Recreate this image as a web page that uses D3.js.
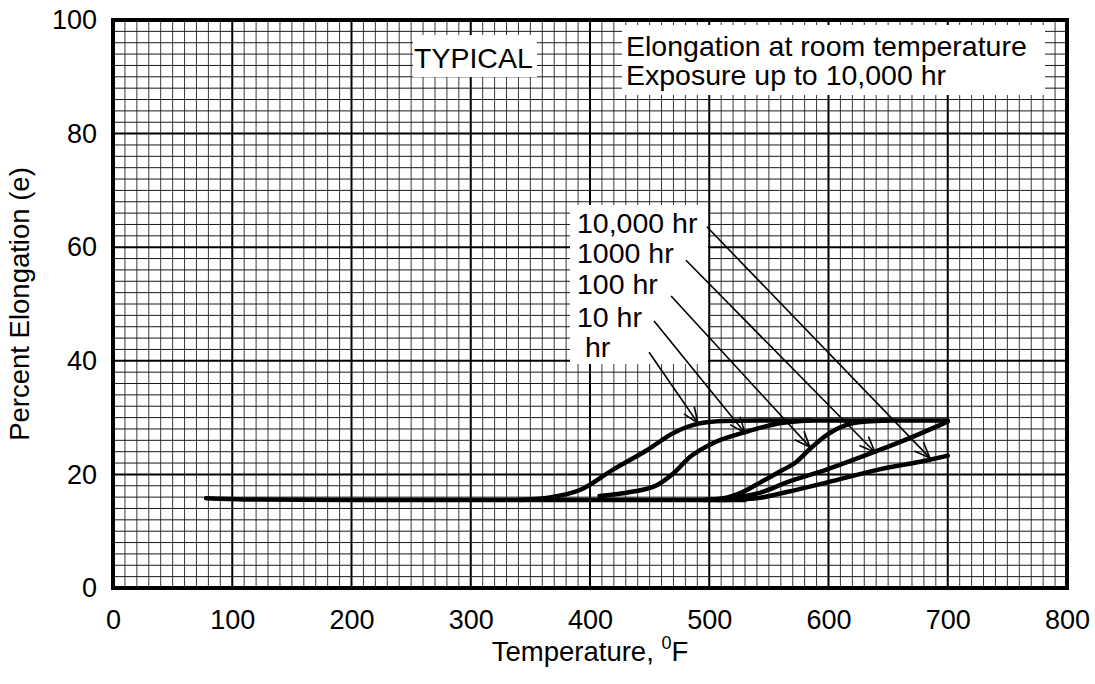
<!DOCTYPE html>
<html>
<head>
<meta charset="utf-8">
<script src="https://cdn.jsdelivr.net/npm/d3@7"></script>
<style>
  body { margin: 0; background: #fff; }
  text { font-family: "Liberation Sans", Arial, sans-serif; fill: #000; }
</style>
</head>
<body>
<div id="chart"></div>
<script>
// values (temperature degF, percent elongation)
var xTicks = [0, 100, 200, 300, 400, 500, 600, 700, 800];
var yTicks = [0, 20, 40, 60, 80, 100];

var baseline = [[78, 15.8], [110, 15.6], [200, 15.5], [360, 15.5], [500, 15.5], [530, 15.5]];
var hr1 = [[340, 15.5], [365, 15.9], [392, 17.3], [419, 20.8], [448, 24.3], [470, 27.3], [490, 28.9], [512, 29.4], [540, 29.5], [700, 29.5]];
var hr10 = [[408, 16.2], [434, 16.9], [456, 18.1], [470, 20.2], [484, 23.1], [503, 25.5], [528, 27.3], [559, 29.0], [585, 29.5]];
var hr100 = [[495, 15.5], [512, 15.8], [527, 16.8], [543, 18.6], [560, 20.6], [573, 22.2], [585, 24.6], [599, 27.0], [615, 28.7], [632, 29.3], [650, 29.5]];
var hr1000 = [[500, 15.5], [520, 15.9], [543, 16.8], [565, 18.6], [599, 20.9], [639, 24.0], [668, 26.4], [700, 29.3]];
var hr10000 = [[505, 15.5], [525, 15.6], [543, 15.9], [565, 16.9], [599, 18.6], [641, 20.8], [683, 22.5], [700, 23.3]];

var hourLabels = ["10,000 hr", "1000 hr", "100 hr", "10 hr", " hr"];
// arrow start / end, in data units, same order as hourLabels
var arrowFrom = [[498, 63.6], [480.5, 57.7], [468, 51.4], [453.7, 47.0], [449.5, 41.5]];
var arrowTo = [[685, 22.9], [639, 23.9], [584.5, 24.8], [530, 27.3], [490.6, 29.0]];

var noteLines = ["Elongation at room temperature", "Exposure up to 10,000 hr"];

var chart_width = 1095, chart_height = 684;
var pLeft = 113, pRight = 1067, pTop = 20, pBottom = 588;

var svg = d3.select("#chart").append("svg")
  .attr("width", chart_width)
  .attr("height", chart_height);

var x = d3.scaleLinear().domain([0, 800]).range([pLeft, pRight]);
var y = d3.scaleLinear().domain([0, 100]).range([pBottom, pTop]);

// grid paper
var grid = svg.append("g");
grid.selectAll(".vminor")
  .data(d3.range(0, 801, 10))
  .enter().append("line")
  .attr("x1", function(d) { return x(d); })
  .attr("x2", function(d) { return x(d); })
  .attr("y1", pTop).attr("y2", pBottom)
  .attr("stroke", function(d) { return d % 100 === 0 ? "#000" : "#3a3a3a"; })
  .attr("stroke-width", function(d) { return d % 100 === 0 ? 2 : 1; });

grid.selectAll(".hminor")
  .data(d3.range(0, 101, 2))
  .enter().append("line")
  .attr("y1", function(d) { return y(d); })
  .attr("y2", function(d) { return y(d); })
  .attr("x1", pLeft).attr("x2", pRight)
  .attr("stroke", function(d) { return d % 20 === 0 ? "#000" : "#1a1a1a"; })
  .attr("stroke-width", function(d) { return d % 20 === 0 ? 2 : 1; });

// white boxes behind the notes
svg.append("rect")
  .attr("x", 413).attr("y", 35).attr("width", 124).attr("height", 42)
  .attr("fill", "#fff");
svg.append("rect")
  .attr("x", 622).attr("y", 25).attr("width", 423).attr("height", 70)
  .attr("fill", "#fff");
svg.append("rect")
  .attr("x", 570).attr("y", 205).attr("width", 138).attr("height", 159)
  .attr("fill", "#fff");

svg.append("text")
  .attr("x", 414).attr("y", 68)
  .style("font-size", "28.5px")
  .text("TYPICAL");

svg.selectAll(".note")
  .data(noteLines)
  .enter().append("text")
  .attr("x", 626)
  .attr("y", function(d, i) { return 56 + i * 29; })
  .style("font-size", "28.5px")
  .text(function(d) { return d; });

svg.selectAll(".hlab")
  .data(hourLabels)
  .enter().append("text")
  .attr("x", 577)
  .attr("y", function(d, i) { return [233, 263, 294, 327, 357][i]; })
  .style("font-size", "28.5px")
  .style("white-space", "pre")
  .text(function(d) { return d; });

// border
svg.append("rect")
  .attr("x", pLeft).attr("y", pTop)
  .attr("width", pRight - pLeft).attr("height", pBottom - pTop)
  .attr("fill", "none")
  .attr("stroke", "#000")
  .attr("stroke-width", 4);

// curves
var line = d3.line()
  .x(function(d) { return x(d[0]); })
  .y(function(d) { return y(d[1]); })
  .curve(d3.curveMonotoneX);

var curves = [baseline, hr1, hr10, hr100, hr1000, hr10000];
svg.selectAll(".curve")
  .data(curves)
  .enter().append("path")
  .attr("d", line)
  .attr("fill", "none")
  .attr("stroke", "#000")
  .attr("stroke-width", 4.5)
  .attr("stroke-linecap", "round")
  .attr("stroke-linejoin", "round");

// leader arrows
var arrows = svg.append("g");
for (var i = 0; i < arrowFrom.length; i++) {
  var x1 = x(arrowFrom[i][0]), y1 = y(arrowFrom[i][1]);
  var x2 = x(arrowTo[i][0]), y2 = y(arrowTo[i][1]);
  var ang = Math.atan2(y2 - y1, x2 - x1);
  var len = 17, spread = 0.38;
  arrows.append("line")
    .attr("x1", x1).attr("y1", y1).attr("x2", x2).attr("y2", y2)
    .attr("stroke", "#000").attr("stroke-width", 1.6);
  arrows.append("path")
    .attr("d", "M" + (x2 - len * Math.cos(ang - spread)) + "," + (y2 - len * Math.sin(ang - spread)) +
      "L" + x2 + "," + y2 +
      "L" + (x2 - len * Math.cos(ang + spread)) + "," + (y2 - len * Math.sin(ang + spread)))
    .attr("fill", "none")
    .attr("stroke", "#000").attr("stroke-width", 1.6);
}

// axes
var xAxis = d3.axisBottom(x).tickValues(xTicks).tickSize(0).tickPadding(22);
var gx = svg.append("g")
  .attr("transform", "translate(0," + pBottom + ")")
  .call(xAxis);
gx.select(".domain").remove();
gx.selectAll("text").style("font-size", "27px").attr("font-family", null);

var yAxis = d3.axisLeft(y).tickValues(yTicks).tickSize(0).tickPadding(16);
var gy = svg.append("g")
  .attr("transform", "translate(" + pLeft + ",0)")
  .call(yAxis);
gy.select(".domain").remove();
gy.selectAll("text").style("font-size", "27px").attr("font-family", null);

// axis titles
var xt = svg.append("text")
  .attr("x", (pLeft + pRight) / 2).attr("y", 661)
  .attr("text-anchor", "middle")
  .style("font-size", "27.5px");
xt.append("tspan").text("Temperature, ");
xt.append("tspan").attr("dy", -12).style("font-size", "18px").text("0");
xt.append("tspan").attr("dy", 12).text("F");

svg.append("text")
  .attr("transform", "translate(29," + ((pTop + pBottom) / 2) + ") rotate(-90)")
  .attr("text-anchor", "middle")
  .style("font-size", "27.5px")
  .text("Percent Elongation (e)");
</script>
</body>
</html>
